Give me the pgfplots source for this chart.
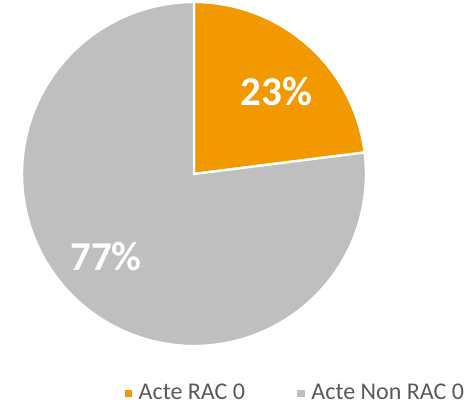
\documentclass[border=0pt]{standalone}
\usepackage{fontspec}
\setmainfont{Carlito}
\usepackage{pgfplots}
\pgfplotsset{compat=1.18}
\usepgfplotslibrary{polar}
\definecolor{pieorange}{HTML}{F29900}
\definecolor{piegray}{HTML}{BFBFBF}
\definecolor{legtext}{HTML}{595959}
% shares in percent
\def\shareRAC{23}
\def\shareNonRAC{77}
\begin{document}
\begin{tikzpicture}
  \useasboundingbox (0,0) rectangle (237pt,204pt);
  \begin{polaraxis}[
      at={(97pt,117pt)}, anchor=center,
      scale only axis, width=172pt, height=172pt,
      hide axis,
      xmin=0, xmax=360, ymin=0, ymax=1,
      clip=false,
      legend columns=2,
      legend style={draw=none, fill=none, at={(0.794,-0.137)}, anchor=center,
        font=\fontsize{12}{14}\selectfont\color{legtext},
        /tikz/every even column/.append style={column sep=23pt}},
      legend image code/.code={\fill[#1] (0pt,-2.6pt) rectangle (5pt,2.4pt);},
    ]
    \addplot[fill=pieorange, draw=white, line width=1.2pt, domain={90-3.6*\shareRAC}:90, samples=80]
      {1} -- (axis cs:0,0) -- cycle;
    \addlegendentry{Acte RAC 0}
    \addplot[fill=piegray, draw=white, line width=1.2pt, domain=90:{450-3.6*\shareRAC}, samples=200]
      {1} -- (axis cs:0,0) -- cycle;
    \addlegendentry{Acte Non RAC 0}
    \node[text=white, font=\fontsize{20.5}{24}\selectfont\bfseries]
      at (axis cs:45,0.68) {23\%};
    \node[text=white, font=\fontsize{20.5}{24}\selectfont\bfseries]
      at (axis cs:223,0.70) {77\%};
  \end{polaraxis}
\end{tikzpicture}
\end{document}
